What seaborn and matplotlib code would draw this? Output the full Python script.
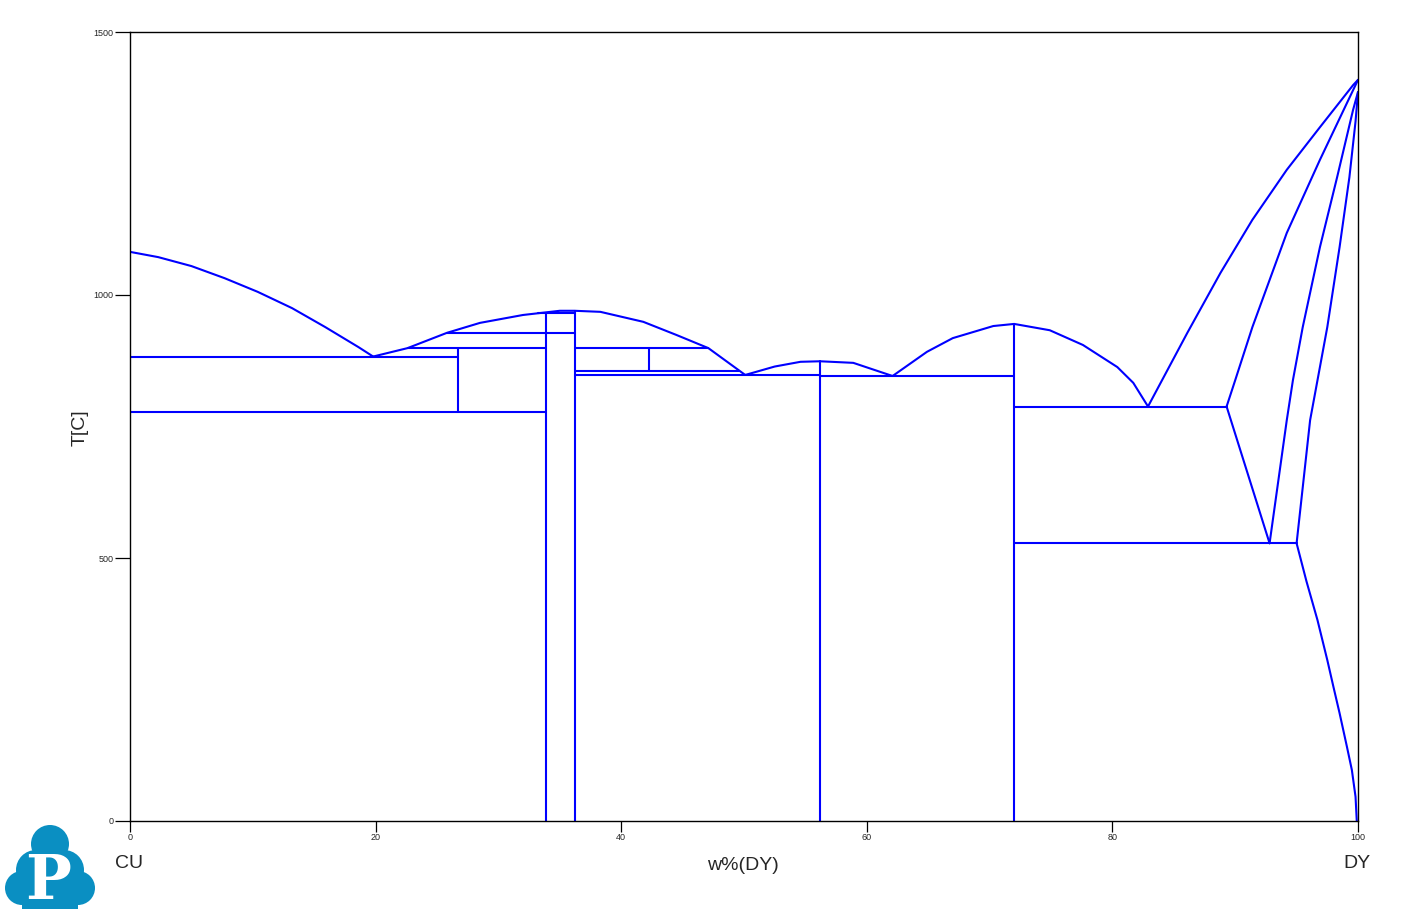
import pandas as pd
import seaborn as sns
import matplotlib.pyplot as plt
from matplotlib.patches import Circle, Rectangle

# Phase boundary curves (w% Dy, T in C)
cu_liq_w = [0, 2.3, 5.0, 7.7, 10.4, 13.2, 15.9, 18.6, 19.8]
cu_liq_t = [1082, 1072, 1055, 1032, 1006, 975, 939, 901, 883]

liq_a_w = [19.8, 22.6, 25.8, 28.5, 32.0, 35.0, 36.2, 38.3, 41.8, 44.5, 47.1,
           50.1]
liq_a_t = [883, 899, 928, 947, 962, 970, 970, 968, 949, 924, 899, 848]

liq_b_w = [50.1, 52.5, 54.6, 56.2, 58.9, 62.1]
liq_b_t = [848, 864, 873, 874, 871, 846]

liq_c_w = [62.1, 64.9, 67.0, 70.3, 72.0, 74.9, 77.6, 80.4, 81.7, 82.9]
liq_c_t = [846, 892, 918, 941, 945, 933, 905, 863, 833, 788]

dy_liq_w = [82.9, 86.1, 88.8, 91.4, 94.2, 96.9, 99.6, 100]
dy_liq_t = [788, 928, 1042, 1143, 1238, 1319, 1399, 1409]

bcc_sol_w = [89.3, 90.0, 91.4, 94.2, 96.9, 99.1, 100]
bcc_sol_t = [788, 838, 939, 1118, 1257, 1365, 1409]

bcc_low_w = [89.3, 92.8]
bcc_low_t = [788, 528]

trans_a_w = [92.8, 94.2, 94.7, 95.5, 96.9, 98.3, 99.6, 100]
trans_a_t = [528, 762, 838, 939, 1091, 1224, 1352, 1386]

trans_b_w = [95.0, 96.1, 97.5, 98.5, 99.3, 99.8, 100]
trans_b_t = [528, 762, 939, 1091, 1224, 1330, 1386]

hcp_sol_w = [95.0, 95.8, 96.7, 97.5, 98.0, 98.5, 99.1, 99.5, 99.8, 99.9]
hcp_sol_t = [528, 456, 382, 306, 255, 205, 141, 97, 46, 0]

# horizontal invariant lines: (w start, w end, T)
horiz_lines = [
    (0, 26.7, 883),
    (0, 33.9, 778),
    (22.6, 33.9, 899),
    (25.8, 36.2, 928),
    (33.2, 36.2, 965),
    (36.2, 47.1, 899),
    (36.2, 49.6, 856),
    (36.2, 56.2, 848),
    (56.2, 72.0, 846),
    (72.0, 89.3, 788),
    (72.0, 95.0, 528),
]

# vertical compound lines: (w, T bottom, T top)
vert_lines = [
    (26.7, 778, 899),
    (33.9, 0, 965),
    (36.2, 0, 970),
    (42.3, 856, 899),
    (56.2, 0, 874),
    (72.0, 0, 945),
]

x_ticks = [0, 20, 40, 60, 80, 100]
y_ticks = [0, 500, 1000, 1500]


def build_frame():
    '''
    Puts every boundary into one long data frame with a segment id,
    so seaborn can draw them all as separate lines.
    '''
    curves = [(cu_liq_w, cu_liq_t), (liq_a_w, liq_a_t), (liq_b_w, liq_b_t),
              (liq_c_w, liq_c_t), (dy_liq_w, dy_liq_t),
              (bcc_sol_w, bcc_sol_t), (bcc_low_w, bcc_low_t),
              (trans_a_w, trans_a_t), (trans_b_w, trans_b_t),
              (hcp_sol_w, hcp_sol_t)]
    for w0, w1, t in horiz_lines:
        curves.append(([w0, w1], [t, t]))
    for w, t0, t1 in vert_lines:
        curves.append(([w, w], [t0, t1]))

    rows = []
    for i, (ws, ts) in enumerate(curves):
        for j, (w, t) in enumerate(zip(ws, ts)):
            rows.append({'seg': i, 'order': j, 'w': w, 'T': t})
    return pd.DataFrame(rows)


def draw_logo(fig):
    '''
    Small blue cloud logo with a white P in the lower left corner.
    '''
    lax = fig.add_axes([0, 0, 100 / 1409, 95 / 915])
    lax.set_xlim(0, 100)
    lax.set_ylim(95, 0)
    lax.set_aspect('equal')
    lax.axis('off')
    col = '#0a8fc2'
    for cx, cy, r in [(50, 24, 19), (22, 68, 17), (78, 68, 17),
                      (50, 60, 28), (36, 50, 20), (64, 50, 20)]:
        lax.add_patch(Circle((cx, cy), r, color=col, lw=0))
    lax.add_patch(Rectangle((22, 62), 56, 27, color=col, lw=0))
    lax.text(48, 62, 'P', color='white', fontsize=44, fontweight='bold',
             family='DejaVu Serif', ha='center', va='center')


def main():
    sns.set_style('white')
    plt.rcParams['font.family'] = ['Liberation Sans', 'DejaVu Sans']
    df = build_frame()

    fig = plt.figure(figsize=(14.09, 9.15), dpi=100)
    ax = fig.add_axes([130 / 1409, 94 / 915, 1228 / 1409, 789 / 915])

    sns.lineplot(data=df, x='w', y='T', units='seg', estimator=None,
                 sort=False, color='#0000ff', linewidth=1.5, legend=False,
                 ax=ax)

    ax.set_xlim(0, 100)
    ax.set_ylim(0, 1500)
    ax.set_xticks(x_ticks)
    ax.set_yticks(y_ticks)
    ax.tick_params(axis='x', direction='out', length=8, width=0.9,
                   labelsize=6.5, pad=1, bottom=True, color='black')
    ax.tick_params(axis='y', direction='out', length=11, width=0.9,
                   labelsize=6.5, pad=1, left=True, color='black')
    for sp in ax.spines.values():
        sp.set_color('black')
        sp.set_linewidth(1.0)

    ax.set_xlabel('')
    ax.set_ylabel('')
    fig.text(743 / 1409, 1 - 865 / 915, 'w%(DY)', fontsize=14,
             ha='center', va='center')
    fig.text(80 / 1409, 1 - 428 / 915, 'T[C]', fontsize=14, rotation=90,
             ha='center', va='center')
    fig.text(129 / 1409, 1 - 864 / 915, 'CU', fontsize=14,
             ha='center', va='center')
    fig.text(1357 / 1409, 1 - 864 / 915, 'DY', fontsize=14,
             ha='center', va='center')

    draw_logo(fig)
    fig.savefig('out.png', dpi=100)


if __name__ == '__main__':
    main()
